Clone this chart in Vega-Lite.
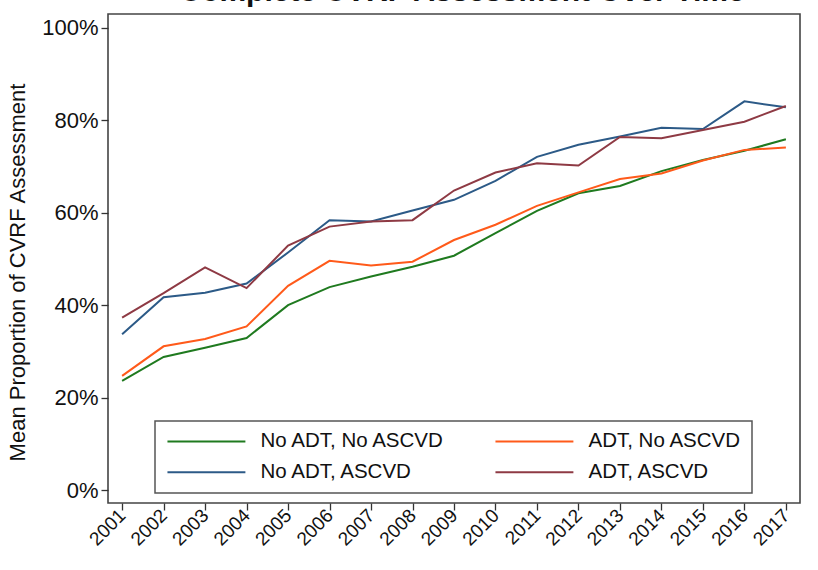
{
  "$schema": "https://vega.github.io/schema/vega-lite/v6.json",
  "autosize": {"type": "none"},
  "width": 692,
  "height": 489,
  "padding": {"left": 108, "top": 14, "right": 18, "bottom": 67},
  "background": "white",
  "title": {
    "text": "Complete CVRF Assessment Over Time",
    "fontSize": 30,
    "fontWeight": "bold",
    "font": "Liberation Sans",
    "color": "#111",
    "baseline": "alphabetic",
    "offset": 0,
    "anchor": "middle",
    "dx": 8,
    "dy": 17
  },
  "config": {
    "font": "Liberation Sans",
    "view": {"stroke": "#444", "strokeWidth": 1.6},
    "axis": {
      "domain": false,
      "grid": false,
      "tickColor": "#333",
      "tickWidth": 1.3,
      "labelColor": "#111",
      "titleColor": "#111",
      "labelFont": "Liberation Sans",
      "titleFont": "Liberation Sans"
    }
  },
  "data": {
    "values": [
      {"year": 2001, "group": "No ADT, No ASCVD", "pct": 23.6},
      {"year": 2002, "group": "No ADT, No ASCVD", "pct": 28.8},
      {"year": 2003, "group": "No ADT, No ASCVD", "pct": 30.8},
      {"year": 2004, "group": "No ADT, No ASCVD", "pct": 32.9},
      {"year": 2005, "group": "No ADT, No ASCVD", "pct": 40.0},
      {"year": 2006, "group": "No ADT, No ASCVD", "pct": 43.9},
      {"year": 2007, "group": "No ADT, No ASCVD", "pct": 46.2},
      {"year": 2008, "group": "No ADT, No ASCVD", "pct": 48.3},
      {"year": 2009, "group": "No ADT, No ASCVD", "pct": 50.7},
      {"year": 2010, "group": "No ADT, No ASCVD", "pct": 55.6},
      {"year": 2011, "group": "No ADT, No ASCVD", "pct": 60.4},
      {"year": 2012, "group": "No ADT, No ASCVD", "pct": 64.2},
      {"year": 2013, "group": "No ADT, No ASCVD", "pct": 65.8},
      {"year": 2014, "group": "No ADT, No ASCVD", "pct": 69.0},
      {"year": 2015, "group": "No ADT, No ASCVD", "pct": 71.4},
      {"year": 2016, "group": "No ADT, No ASCVD", "pct": 73.4},
      {"year": 2017, "group": "No ADT, No ASCVD", "pct": 75.9},
      {"year": 2001, "group": "ADT, No ASCVD", "pct": 24.7},
      {"year": 2002, "group": "ADT, No ASCVD", "pct": 31.1},
      {"year": 2003, "group": "ADT, No ASCVD", "pct": 32.7},
      {"year": 2004, "group": "ADT, No ASCVD", "pct": 35.4},
      {"year": 2005, "group": "ADT, No ASCVD", "pct": 44.2},
      {"year": 2006, "group": "ADT, No ASCVD", "pct": 49.6},
      {"year": 2007, "group": "ADT, No ASCVD", "pct": 48.6},
      {"year": 2008, "group": "ADT, No ASCVD", "pct": 49.4},
      {"year": 2009, "group": "ADT, No ASCVD", "pct": 54.1},
      {"year": 2010, "group": "ADT, No ASCVD", "pct": 57.4},
      {"year": 2011, "group": "ADT, No ASCVD", "pct": 61.5},
      {"year": 2012, "group": "ADT, No ASCVD", "pct": 64.4},
      {"year": 2013, "group": "ADT, No ASCVD", "pct": 67.3},
      {"year": 2014, "group": "ADT, No ASCVD", "pct": 68.5},
      {"year": 2015, "group": "ADT, No ASCVD", "pct": 71.3},
      {"year": 2016, "group": "ADT, No ASCVD", "pct": 73.6},
      {"year": 2017, "group": "ADT, No ASCVD", "pct": 74.1},
      {"year": 2001, "group": "No ADT, ASCVD", "pct": 33.7},
      {"year": 2002, "group": "No ADT, ASCVD", "pct": 41.7},
      {"year": 2003, "group": "No ADT, ASCVD", "pct": 42.7},
      {"year": 2004, "group": "No ADT, ASCVD", "pct": 44.7},
      {"year": 2005, "group": "No ADT, ASCVD", "pct": 51.4},
      {"year": 2006, "group": "No ADT, ASCVD", "pct": 58.4},
      {"year": 2007, "group": "No ADT, ASCVD", "pct": 58.1},
      {"year": 2008, "group": "No ADT, ASCVD", "pct": 60.5},
      {"year": 2009, "group": "No ADT, ASCVD", "pct": 62.8},
      {"year": 2010, "group": "No ADT, ASCVD", "pct": 66.9},
      {"year": 2011, "group": "No ADT, ASCVD", "pct": 72.1},
      {"year": 2012, "group": "No ADT, ASCVD", "pct": 74.7},
      {"year": 2013, "group": "No ADT, ASCVD", "pct": 76.5},
      {"year": 2014, "group": "No ADT, ASCVD", "pct": 78.4},
      {"year": 2015, "group": "No ADT, ASCVD", "pct": 78.1},
      {"year": 2016, "group": "No ADT, ASCVD", "pct": 84.1},
      {"year": 2017, "group": "No ADT, ASCVD", "pct": 82.8},
      {"year": 2001, "group": "ADT, ASCVD", "pct": 37.3},
      {"year": 2002, "group": "ADT, ASCVD", "pct": 42.6},
      {"year": 2003, "group": "ADT, ASCVD", "pct": 48.2},
      {"year": 2004, "group": "ADT, ASCVD", "pct": 43.7},
      {"year": 2005, "group": "ADT, ASCVD", "pct": 52.9},
      {"year": 2006, "group": "ADT, ASCVD", "pct": 57.0},
      {"year": 2007, "group": "ADT, ASCVD", "pct": 58.1},
      {"year": 2008, "group": "ADT, ASCVD", "pct": 58.4},
      {"year": 2009, "group": "ADT, ASCVD", "pct": 64.8},
      {"year": 2010, "group": "ADT, ASCVD", "pct": 68.7},
      {"year": 2011, "group": "ADT, ASCVD", "pct": 70.7},
      {"year": 2012, "group": "ADT, ASCVD", "pct": 70.2},
      {"year": 2013, "group": "ADT, ASCVD", "pct": 76.4},
      {"year": 2014, "group": "ADT, ASCVD", "pct": 76.1},
      {"year": 2015, "group": "ADT, ASCVD", "pct": 77.9},
      {"year": 2016, "group": "ADT, ASCVD", "pct": 79.7},
      {"year": 2017, "group": "ADT, ASCVD", "pct": 83.1}
    ]
  },
  "mark": {"type": "line", "strokeWidth": 2, "clip": true},
  "encoding": {
    "x": {
      "field": "year",
      "type": "quantitative",
      "scale": {"domain": [2000.66, 2017.34], "nice": false, "zero": false},
      "axis": {
        "title": null,
        "values": [2001, 2002, 2003, 2004, 2005, 2006, 2007, 2008, 2009, 2010, 2011, 2012, 2013, 2014, 2015, 2016, 2017],
        "format": "d",
        "labelAngle": -45,
        "labelAlign": "right",
        "labelBaseline": "middle",
        "labelFontSize": 19,
        "tickSize": 7,
        "labelPadding": 2,
        "labelOverlap": false
      }
    },
    "y": {
      "field": "pct",
      "type": "quantitative",
      "scale": {"domain": [-2.8, 103], "nice": false, "zero": false},
      "axis": {
        "title": "Mean Proportion of CVRF Assessment",
        "titleFontSize": 22,
        "titleFontWeight": "normal",
        "titlePadding": 12,
        "titleY": 258,
        "values": [0, 20, 40, 60, 80, 100],
        "labelExpr": "datum.value + '%'",
        "labelFontSize": 22,
        "tickSize": 7,
        "labelPadding": 3
      }
    },
    "color": {
      "field": "group",
      "type": "nominal",
      "scale": {
        "domain": ["No ADT, No ASCVD", "No ADT, ASCVD", "ADT, No ASCVD", "ADT, ASCVD"],
        "range": ["#1f7a1f", "#2c5a87", "#ff5a1a", "#8e3a44"]
      },
      "legend": {
        "title": null,
        "orient": "none",
        "legendX": 47,
        "legendY": 407,
        "columns": 2,
        "columnPadding": 45,
        "rowPadding": 10,
        "padding": 10,
        "strokeColor": "#555",
        "fillColor": "white",
        "symbolType": "M-1,0H9",
        "symbolSize": 243,
        "symbolStrokeWidth": 2,
        "symbolFillColor": "transparent",
        "labelFontSize": 20.5,
        "labelLimit": 400,
        "labelColor": "#111",
        "labelOffset": 75,
        "labelFont": "Liberation Sans",
        "encode": {"legend": {"update": {"strokeWidth": {"value": 1.5}}}}
      }
    }
  }
}
